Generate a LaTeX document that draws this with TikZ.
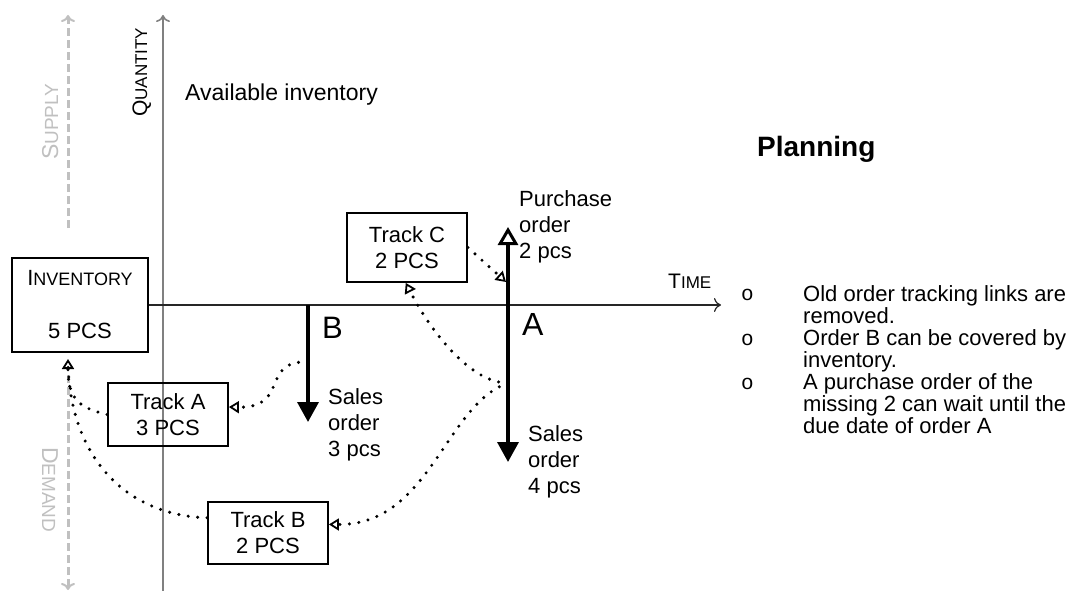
\documentclass[tikz,border=0pt]{standalone}
\usepackage{fontspec}
\setmainfont{Liberation Sans}
\newfontfamily\monofnt{Liberation Mono}
\usetikzlibrary{arrows.meta}
\definecolor{lgray}{HTML}{C0C0C0}
\definecolor{axgray}{HTML}{808080}
\newcommand{\fsc}[4]{{\fontsize{#1pt}{#1pt}\selectfont #3}{\fontsize{#2pt}{#2pt}\selectfont #4}}
\begin{document}
\begin{tikzpicture}[x=1pt,y=-1pt,
  box/.style={draw=black, line width=1.8pt, minimum width=120pt, inner sep=0pt, align=center, font=\fontsize{22pt}{26pt}\selectfont},
  lbl/.style={inner sep=0pt, align=left, font=\fontsize{22pt}{26pt}\selectfont},
  blt/.style={inner sep=0pt, align=left, font=\fontsize{22pt}{22pt}\selectfont},
  bul/.style={inner sep=0pt, font=\monofnt\fontsize{21pt}{21pt}\selectfont},
  axtip/.style={-{Computer Modern Rightarrow[length=7pt,width=14pt]}},
  supdem/.style={draw=lgray, line width=3pt, dash pattern=on 8pt off 4pt, -{Computer Modern Rightarrow[length=7pt,width=14pt,line width=2pt]}},
  dotarr/.style={line width=3.4pt, line cap=round, dash pattern=on 0pt off 9.5pt, -{Triangle[open, length=10pt, width=12pt, line width=1.8pt]}},
  dotln/.style={line width=3.4pt, line cap=round, dash pattern=on 0pt off 9.5pt},
  downarr/.style={line width=3.5pt, -{Triangle[length=20pt, width=21pt]}},
  uparr/.style={line width=3.5pt, -{Triangle[open, length=18pt, width=20pt, line width=3pt]}}
]
\useasboundingbox (0,0) rectangle (1073,591);

% axes
\coordinate (qbot) at (163,591);
\coordinate (qtop) at (163,15);
\coordinate (tend) at (721,305);
\draw[draw=axgray, line width=1.6pt, axtip] (qbot) -- (qtop);

% supply / demand
\coordinate (s0) at (68,228);
\coordinate (s1) at (68,15);
\coordinate (d0) at (68,375);
\coordinate (d1) at (68,590);
\draw[supdem] (s0) -- (s1);
\draw[supdem] (d0) -- (d1);
\node[inner sep=0pt, rotate=90, anchor=base west, text=lgray] (sup) at (58,160) {\fsc{23}{19}{S}{UPPLY}};
\node[inner sep=0pt, rotate=-90, anchor=base west, text=lgray] (dem) at (42,447) {\fsc{23}{19}{D}{EMAND}};
\node[inner sep=0pt, rotate=90, anchor=base west] (qty) at (147,117) {\fsc{21}{17}{Q}{UANTITY}};

% inventory box
\node[box, minimum width=136pt, minimum height=94pt] (inv) at (80,305) {\fsc{22}{18}{I}{NVENTORY}\\[27pt]5 PCS};
\draw[line width=1.2pt, black!85, axtip] (inv.east) -- (tend);
\node[inner sep=0pt, anchor=base west] (time) at (668,288) {\fsc{21}{17}{T}{IME}};

\node[inner sep=0pt, anchor=base west, font=\fontsize{23pt}{26pt}\selectfont] (avail) at (185,101) {Available inventory};

% track boxes
\node[box, minimum height=69pt] (tc) at (407,247.5) {Track C\\2 PCS};
\node[box, minimum height=63pt] (ta) at (168,414.5) {Track A\\3 PCS};
\node[box, minimum height=62pt] (tb) at (268,533) {Track B\\2 PCS};

% order B
\coordinate (B0) at (308,305);
\coordinate (B1) at (308,422);
\coordinate (Bb) at (308,362);
\draw[downarr] (B0) -- (B1);
\node[inner sep=0pt, anchor=base west, font=\fontsize{31pt}{31pt}\selectfont] (lB) at (322,338) {B};
\node[lbl, anchor=base west] (so3) at (328,456) {Sales\\order\\3 pcs};

% order A
\coordinate (A0) at (508,305);
\coordinate (Aup) at (508,227);
\coordinate (Adn) at (508,462);
\coordinate (Aa) at (508,383);
\coordinate (Ac) at (506,282);
\draw[downarr] (A0) -- (Adn);
\draw[uparr] (A0) -- (Aup);
\node[inner sep=0pt, anchor=base west, font=\fontsize{32pt}{32pt}\selectfont] (lA) at (522,335) {A};
\node[lbl, anchor=base west] (so4) at (528,493) {Sales\\order\\4 pcs};
\node[lbl, anchor=base west] (po) at (519,258) {Purchase\\order\\2 pcs};

% tracking links
\coordinate (invin) at (68,359);
\draw[dotarr] (tc.east) -- (Ac);
\draw[dotarr] (Aa) .. controls (470,383) and (430,330) .. (tc.-92);
\draw[dotarr] (Aa) .. controls (445,405) and (430,525) .. (tb.8);
\draw[dotarr] (Bb) .. controls (260,360) and (290,408) .. (ta.7);
\draw[dotln] (tb.166) .. controls (120,515) and (68,450) .. (invin);
\draw[dotarr] (ta.west) .. controls (80,408) and (68,400) .. (invin);

% planning text
\node[inner sep=0pt, anchor=base west, font=\fontsize{28pt}{30pt}\selectfont\bfseries] (plan) at (757,157) {Planning};
\node[bul, anchor=base west] (b1) at (741,300) {o};
\node[bul, anchor=base west] (b2) at (741,345) {o};
\node[bul, anchor=base west] (b3) at (741,389) {o};
\node[blt, anchor=base west] (t1) at (803,323) {Old order tracking links are\\removed.};
\node[blt, anchor=base west] (t2) at (803,367) {Order B can be covered by\\inventory.};
\node[blt, anchor=base west] (t3) at (803,433) {A purchase order of the\\missing 2 can wait until the\\due date of order A};
\end{tikzpicture}
\end{document}
